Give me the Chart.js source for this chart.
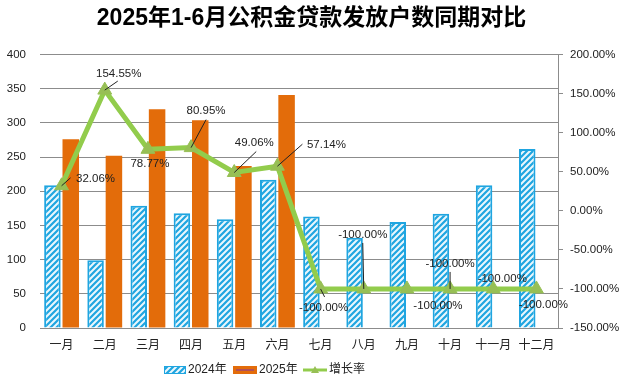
<!DOCTYPE html>
<html>
<head>
<meta charset="utf-8">
<script src="https://cdn.jsdelivr.net/npm/chart.js@4"></script>
<style>
  html, body { margin: 0; padding: 0; background: #fff; }
  #wrap { width: 623px; height: 383px; }
</style>
</head>
<body>
<div id="wrap"><canvas id="chart" width="623" height="383"></canvas></div>
<script>
const months = ["一月", "二月", "三月", "四月", "五月", "六月", "七月", "八月", "九月", "十月", "十一月", "十二月"];
const values2024 = [209, 99, 179, 168, 159, 217, 163, 132, 155, 167, 209, 262];
const values2025 = [276, 252, 320, 304, 237, 341, 0, 0, 0, 0, 0, 0];
const growthRate = [32.06, 154.55, 78.77, 80.95, 49.06, 57.14, -100, -100, -100, -100, -100, -100];
const leftTicks = [0, 400, 50];
const rightTicks = [-150, 200, 50];

const FONT = "'Liberation Sans', 'Noto Sans CJK SC', sans-serif";
const BLUE = "#1fa5e0";
const ORANGE = "#e36c0a";
const GREEN = "#92cc4c";
const MARK = "#97bf55";

// diagonal hatch for the 2024 bars
function hatch() {
  const c = document.createElement("canvas");
  c.width = 6; c.height = 6;
  const g = c.getContext("2d");
  g.fillStyle = "#eaf7fd";
  g.fillRect(0, 0, 6, 6);
  g.strokeStyle = BLUE;
  g.lineWidth = 2.2;
  g.beginPath();
  g.moveTo(-3, 3); g.lineTo(3, -3);
  g.moveTo(0, 6); g.lineTo(6, 0);
  g.moveTo(3, 9); g.lineTo(9, 3);
  g.stroke();
  return g.createPattern(c, "repeat");
}
const hatchFill = hatch();

// label offset from its point, and optional leader line end
const labelPos = [
  [34, -7, 9, -8], [14, -16, 13, -9], [2, 15, null, null], [15, -37, 15, -28],
  [20, -30, 22, -21], [49, -21, 25, -22], [3, 19, 4, 8], [-1, -54, -1, -46],
  [31, 17, null, null], [0, -25, 0, -17], [9, -10, null, null], [7, 16, null, null]
];

const lineLabels = {
  id: "lineLabels",
  afterDatasetsDraw(chart) {
    const ctx = chart.ctx;
    const meta = chart.getDatasetMeta(2);
    ctx.save();
    ctx.font = "11.5px " + FONT;
    ctx.fillStyle = "#222";
    ctx.strokeStyle = "#222";
    ctx.lineWidth = 1;
    ctx.textAlign = "center";
    ctx.textBaseline = "middle";
    meta.data.forEach((pt, i) => {
      const p = labelPos[i];
      if (p[2] !== null) {
        ctx.beginPath();
        ctx.moveTo(pt.x, pt.y);
        ctx.lineTo(pt.x + p[2], pt.y + p[3]);
        ctx.stroke();
      }
      ctx.fillText(growthRate[i].toFixed(2) + "%", pt.x + p[0], pt.y + p[1]);
    });
    ctx.restore();
  }
};

const bottomLegend = {
  id: "bottomLegend",
  afterDraw(chart) {
    const ctx = chart.ctx;
    const y = 370;
    ctx.save();
    ctx.font = "12px " + FONT;
    ctx.fillStyle = "#222";
    ctx.textBaseline = "middle";
    // 2024
    ctx.fillStyle = hatchFill;
    ctx.fillRect(164, y - 4, 22, 8);
    ctx.strokeStyle = BLUE;
    ctx.lineWidth = 1;
    ctx.strokeRect(164.5, y - 3.5, 21, 7);
    ctx.fillStyle = "#222";
    ctx.fillText(chart.data.datasets[0].label, 188, y);
    // 2025
    ctx.fillStyle = ORANGE;
    ctx.fillRect(233, y - 4, 24, 8);
    ctx.strokeStyle = "#b0505a";
    ctx.lineWidth = 2;
    ctx.beginPath();
    ctx.moveTo(236, y); ctx.lineTo(254, y);
    ctx.stroke();
    ctx.fillStyle = "#222";
    ctx.fillText(chart.data.datasets[1].label, 259, y);
    // growth
    ctx.strokeStyle = GREEN;
    ctx.lineWidth = 3;
    ctx.beginPath();
    ctx.moveTo(303, y); ctx.lineTo(327, y);
    ctx.stroke();
    ctx.fillStyle = MARK;
    ctx.beginPath();
    ctx.moveTo(315, y - 4); ctx.lineTo(319, y + 3); ctx.lineTo(311, y + 3);
    ctx.closePath();
    ctx.fill();
    ctx.fillStyle = "#222";
    ctx.fillText(chart.data.datasets[2].label, 329, y);
    ctx.restore();
  }
};

new Chart(document.getElementById("chart"), {
  type: "bar",
  data: {
    labels: months,
    datasets: [
      {
        label: "2024年",
        data: values2024,
        backgroundColor: hatchFill,
        borderColor: BLUE,
        borderWidth: 2,
        yAxisID: "y",
        categoryPercentage: 0.85,
        barPercentage: 0.9,
        order: 2
      },
      {
        label: "2025年",
        data: values2025,
        backgroundColor: ORANGE,
        borderWidth: 0,
        yAxisID: "y",
        categoryPercentage: 0.85,
        barPercentage: 0.9,
        order: 2
      },
      {
        type: "line",
        label: "增长率",
        data: growthRate,
        borderColor: GREEN,
        borderWidth: 5,
        pointStyle: "triangle",
        pointRadius: 8,
        pointBackgroundColor: MARK,
        pointBorderColor: MARK,
        pointBorderWidth: 1,
        yAxisID: "y1",
        tension: 0,
        order: 1
      }
    ]
  },
  options: {
    responsive: false,
    animation: false,
    layout: { padding: { top: 0, bottom: 25, left: 0, right: 0 } },
    plugins: {
      legend: { display: false },
      tooltip: { enabled: false },
      title: {
        display: true,
        text: "2025年1-6月公积金贷款发放户数同期对比",
        color: "#000",
        font: { family: FONT, size: 23, weight: "bold" },
        padding: { top: 5, bottom: 22 }
      }
    },
    scales: {
      x: {
        grid: { display: false, drawTicks: false },
        border: { display: true, color: "#8c8c8c" },
        ticks: { color: "#222", padding: 10, font: { family: FONT, size: 12 }, maxRotation: 0, autoSkip: false },
        afterFit(s) { s.height = 30; }
      },
      y: {
        position: "left",
        min: leftTicks[0],
        max: leftTicks[1],
        ticks: { stepSize: leftTicks[2], color: "#222", padding: 14, font: { family: FONT, size: 11.5 } },
        grid: { color: "#8c8c8c", drawTicks: false },
        border: { display: false },
        afterFit(s) { s.width = 40; }
      },
      y1: {
        position: "right",
        min: rightTicks[0],
        max: rightTicks[1],
        ticks: {
          stepSize: rightTicks[2],
          color: "#222",
          padding: 7,
          font: { family: FONT, size: 11.5 },
          callback: v => v.toFixed(2) + "%"
        },
        grid: { drawOnChartArea: false, drawTicks: true, tickLength: 5, color: "#8c8c8c" },
        border: { display: true, color: "#8c8c8c" },
        afterFit(s) { s.width = 65; }
      }
    }
  },
  plugins: [lineLabels, bottomLegend]
});
</script>
</body>
</html>
